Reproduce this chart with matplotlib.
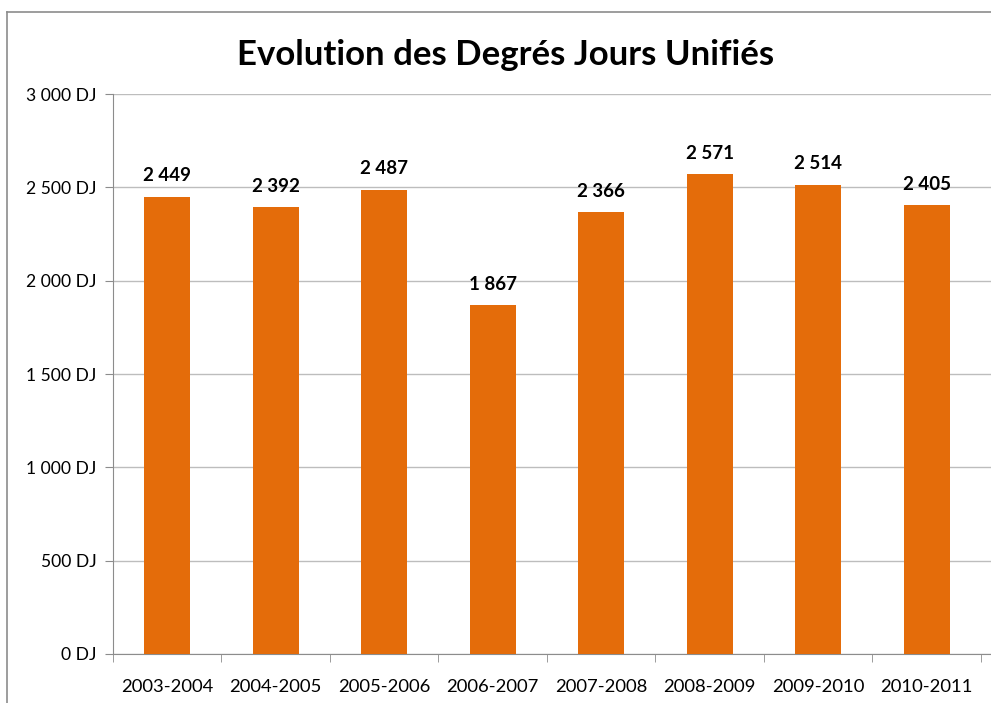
import matplotlib
matplotlib.use('Agg')
from matplotlib import pyplot as plt
from matplotlib.lines import Line2D
import numpy as np

# data
seasons = ['2003-2004', '2004-2005', '2005-2006', '2006-2007',
           '2007-2008', '2008-2009', '2009-2010', '2010-2011']
dju = [2449, 2392, 2487, 1867, 2366, 2571, 2514, 2405]
yticks = [0, 500, 1000, 1500, 2000, 2500, 3000]

plt.rcParams['font.family'] = ['Lato', 'DejaVu Sans']

def fmt(v):
    return '{:,}'.format(v).replace(',', ' ')

fig = plt.figure(figsize=(9.91, 7.03), dpi=100)
ax = fig.add_axes([113 / 991, 49 / 703, (991 - 113) / 991, 560 / 703])

x = np.arange(len(seasons))
ax.bar(x, dju, width=0.42, color='#E46C0A', zorder=3)

for xi, v in zip(x, dju):
    ax.annotate(fmt(v), (xi, v), xytext=(0, 9), textcoords='offset points',
                ha='center', va='bottom', fontsize=13.5, fontweight='bold')

ax.set_ylim(0, 3000)
ax.set_xlim(-0.5, 7.5 + 10 / 108.4)
ax.set_yticks(yticks)
ax.set_yticklabels([fmt(t) + ' DJ' for t in yticks], fontsize=12.6)
ax.yaxis.grid(True, color='#BDBDBD', linewidth=1, zorder=0)

ax.set_xticks(x)
ax.set_xticklabels(seasons, fontsize=13.3)
ax.tick_params(axis='x', length=0, pad=18)
ax.set_xticks(np.arange(len(seasons) + 1) - 0.5, minor=True)
ax.tick_params(axis='x', which='minor', length=6, color='#8C8C8C')
ax.tick_params(axis='y', length=6, color='#8C8C8C', pad=6)

for s in ['top', 'right']:
    ax.spines[s].set_visible(False)
for s in ['left', 'bottom']:
    ax.spines[s].set_color('#8C8C8C')

fig.text(506 / 991, 1 - 55 / 703, 'Evolution des Degrés Jours Unifiés',
         ha='center', va='center', fontsize=25, fontweight='bold')

# outer chart frame
fig.add_artist(Line2D([7 / 991, 7 / 991], [0, 1 - 12 / 703], color='#8C8C8C',
                      linewidth=1.2, transform=fig.transFigure))
fig.add_artist(Line2D([7 / 991, 1], [1 - 12 / 703, 1 - 12 / 703], color='#8C8C8C',
                      linewidth=1.2, transform=fig.transFigure))

fig.savefig('out.png', dpi=100)
